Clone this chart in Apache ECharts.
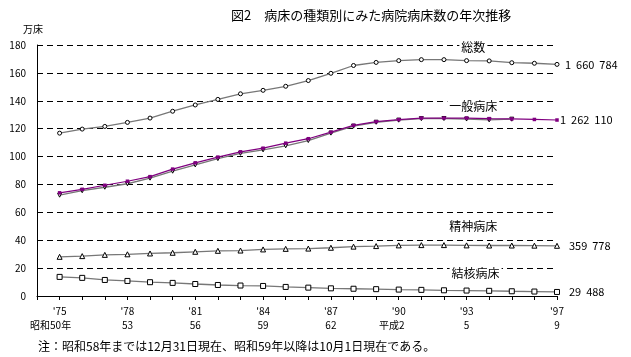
<!DOCTYPE html>
<html>
<head>
<meta charset="utf-8">
<script src="https://cdn.jsdelivr.net/npm/echarts@6/dist/echarts.min.js"></script>
<style>
  html, body { margin: 0; padding: 0; background: #fff; }
  #main { width: 631px; height: 357px; }
</style>
</head>
<body>
<div id="main"></div>
<script>
const FONT = '"Noto Sans CJK JP", sans-serif'

const years = [1975, 1976, 1977, 1978, 1979, 1980, 1981, 1982, 1983, 1984, 1985, 1986,
    1987, 1988, 1989, 1990, 1991, 1992, 1993, 1994, 1995, 1996, 1997]

// 万床
const totalBeds = [116.8, 119.7, 121.6, 124.5, 127.6, 132.5, 137.0, 141.0, 145.0, 147.5, 150.4, 154.5,
    159.7, 165.3, 167.5, 168.8, 169.5, 169.5, 168.8, 168.6, 167.3, 166.9, 166.1]
const generalBeds = [74.0, 76.5, 79.4, 82.3, 85.6, 91.0, 95.5, 99.6, 103.4, 106.0, 109.6, 112.8,
    117.5, 122.4, 125.0, 126.5, 127.6, 127.6, 127.6, 127.2, 127.0, 126.6, 126.2]
const otherBeds = [72.3, 75.5, 78.0, 80.5, 84.5, 89.5, 94.0, 98.5, 102.3, 104.8, 107.7, 111.5,
    116.8, 121.8, 124.6, 126.1, 127.2, 127.3, 126.9, 126.3, 126.8]
const psychBeds = [28.1, 28.6, 29.5, 29.9, 30.5, 31.0, 31.7, 32.4, 32.6, 33.4, 33.8, 34.0,
    34.6, 35.4, 35.8, 36.3, 36.5, 36.5, 36.3, 36.2, 36.2, 36.1, 36.0]
const tbBeds = [13.7, 13.0, 11.5, 10.8, 9.9, 9.4, 8.6, 7.9, 7.5, 7.2, 6.5, 6.0,
    5.5, 5.2, 4.9, 4.6, 4.4, 4.1, 3.9, 3.7, 3.4, 3.2, 2.9]

const endValues = ['1  660  784', '1  262  110', '359  778', '29  488']
const seriesNames = ['総数', '一般病床', '精神病床', '結核病床']

// x軸ラベル（西暦 / 和暦）
const labelYears = [1975, 1978, 1981, 1984, 1987, 1990, 1993, 1997]
const labelWestern = ["'75", "'78", "'81", "'84", "'87", "'90", "'93", "'97"]
const labelJapanese = ['昭和50年', '53', '56', '59', '62', '平成2', '5', '9']

const toPairs = (arr) => arr.map((v, i) => [years[i], v])

const nameLabel = (text, x, y) => ({
    symbol: 'rect',
    symbolSize: 0,
    silent: true,
    label: {
        show: true,
        formatter: text,
        color: '#000',
        fontFamily: FONT,
        fontSize: 12,
        backgroundColor: '#fff',
        padding: [0, 2],
    },
    data: [{ coord: [x, y] }],
})

const endLabel = (text, distance) => ({
    show: true,
    formatter: text,
    distance: distance,
    color: '#000',
    fontFamily: FONT,
    fontSize: 11,
})

const hollow = { color: '#fff', borderColor: '#000', borderWidth: 1 }
const lineColor = '#777'

const chart = echarts.init(document.getElementById('main'))
chart.setOption({
    animation: false,
    textStyle: { fontFamily: FONT },
    title: {
        text: '図2　病床の種類別にみた病院病床数の年次推移',
        left: 226,
        top: 4,
        textStyle: { fontSize: 13, fontWeight: 'normal', color: '#000', fontFamily: FONT },
    },
    grid: { left: 37, right: 74, top: 45, bottom: 61 },
    xAxis: {
        type: 'value',
        min: 1974,
        max: 1997,
        interval: 1,
        axisLine: { lineStyle: { color: '#000', width: 1 } },
        axisTick: { show: true, length: 4, lineStyle: { color: '#000' } },
        splitLine: { show: false },
        axisLabel: {
            margin: 8,
            color: '#000',
            fontSize: 10,
            formatter: (v) => {
                const i = labelYears.indexOf(v)
                if (i < 0) return ''
                const style = i === 0 ? 'j0' : (i === 5 ? 'j5' : 'j')
                return `{w|${labelWestern[i]}}\n{${style}|${labelJapanese[i]}}`
            },
            rich: {
                w: { fontSize: 10, lineHeight: 14, fontFamily: FONT, color: '#000' },
                j: { fontSize: 10, lineHeight: 14, fontFamily: FONT, color: '#000' },
                j0: { fontSize: 10, lineHeight: 14, fontFamily: FONT, color: '#000', padding: [0, 18, 0, 0] },
                j5: { fontSize: 10, lineHeight: 14, fontFamily: FONT, color: '#000', padding: [0, 14, 0, 0] },
            },
        },
    },
    yAxis: {
        type: 'value',
        min: 0,
        max: 180,
        interval: 20,
        name: '万床',
        nameLocation: 'end',
        nameGap: 11,
        nameTextStyle: { color: '#000', fontSize: 10, fontFamily: FONT, padding: [0, 8, 0, 0] },
        axisLine: { show: true, lineStyle: { color: '#000', width: 1 } },
        axisTick: { show: false },
        axisLabel: { margin: 11, color: '#000', fontSize: 10 },
        splitLine: { lineStyle: { color: '#000', type: [6, 4], width: 1 } },
    },
    series: [
        {
            name: seriesNames[0],
            type: 'line',
            data: toPairs(totalBeds),
            symbol: 'circle',
            symbolSize: 4,
            itemStyle: hollow,
            lineStyle: { color: lineColor, width: 1.3 },
            endLabel: endLabel(endValues[0], 8),
            markPoint: nameLabel(seriesNames[0], 1993.3, 178.4),
            z: 3,
        },
        {
            name: 'その他の病床',
            type: 'line',
            data: toPairs(otherBeds),
            symbol: 'triangle',
            symbolRotate: 180,
            symbolSize: 4,
            itemStyle: hollow,
            lineStyle: { color: lineColor, width: 1.3 },
            z: 2,
        },
        {
            name: seriesNames[1],
            type: 'line',
            data: toPairs(generalBeds),
            symbol: 'rect',
            symbolSize: 3.5,
            itemStyle: { color: '#800080' },
            lineStyle: { color: '#800080', width: 1.2 },
            endLabel: endLabel(endValues[1], 3),
            markPoint: nameLabel(seriesNames[1], 1993.3, 136.1),
            z: 4,
        },
        {
            name: seriesNames[2],
            type: 'line',
            data: toPairs(psychBeds),
            symbol: 'triangle',
            symbolSize: 5,
            itemStyle: hollow,
            lineStyle: { color: lineColor, width: 1.3 },
            endLabel: endLabel(endValues[2], 12),
            markPoint: nameLabel(seriesNames[2], 1993.3, 50),
            z: 3,
        },
        {
            name: seriesNames[3],
            type: 'line',
            data: toPairs(tbBeds),
            symbol: 'rect',
            symbolSize: 5,
            itemStyle: hollow,
            lineStyle: { color: lineColor, width: 1.3 },
            endLabel: endLabel(endValues[3], 12),
            markPoint: nameLabel(seriesNames[3], 1993.4, 16.3),
            z: 3,
        },
    ],
    graphic: [
        {
            type: 'text',
            left: 38,
            top: 340,
            style: {
                text: '注：昭和58年までは12月31日現在、昭和59年以降は10月1日現在である。',
                fill: '#000',
                font: '12px ' + FONT,
            },
        },
    ],
})
</script>
</body>
</html>
